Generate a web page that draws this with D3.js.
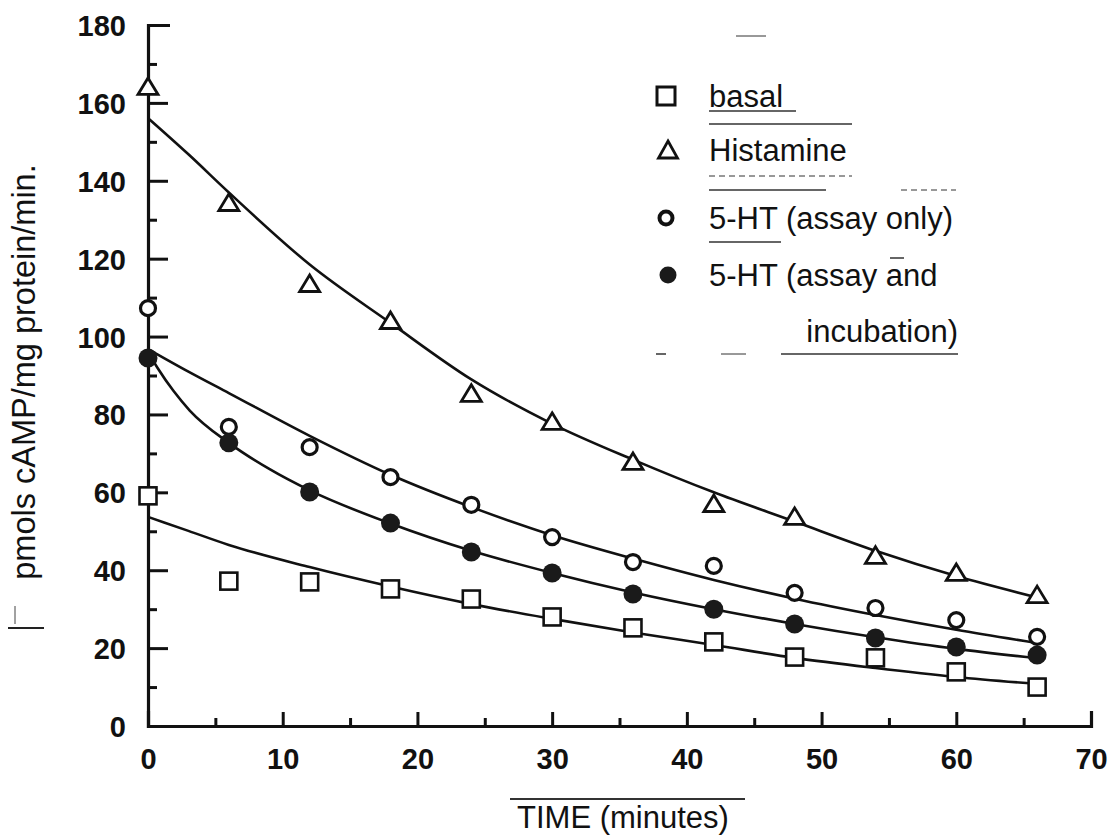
<!DOCTYPE html>
<html>
<head>
<meta charset="utf-8">
<script src="https://cdn.jsdelivr.net/npm/d3@7"></script>
<style>
  body { margin: 0; background: #fff; }
  svg { display: block; }
</style>
</head>
<body>
<div id="chart"></div>
<script>
// measured time points (minutes)
const times = [0, 6, 12, 18, 24, 30, 36, 42, 48, 54, 60, 66];

// measured values, pmols cAMP/mg protein/min
const basal = [59.1, 37.2, 37.0, 35.2, 32.6, 28.0, 25.2, 21.6, 17.7, 17.5, 13.9, 10.0];
const histamine = [164.1, 134.3, 113.5, 104.0, 85.3, 78.1, 67.8, 57.0, 53.7, 43.7, 39.3, 33.6];
const htAssay = [107.3, 76.8, 71.6, 63.9, 56.8, 48.5, 42.1, 41.1, 34.2, 30.3, 27.2, 22.9];
const htIncub = [94.5, 72.7, 60.1, 52.1, 44.7, 39.3, 33.9, 30.0, 26.2, 22.6, 20.3, 18.2];

// hand drawn fitted curves
const fitTimes = [0, 3, 6, 12, 18, 24, 30, 36, 42, 48, 54, 60, 66];
const fitBasal = [53.7, 50.1, 46.5, 40.8, 35.8, 31.3, 27.5, 24.0, 20.8, 17.5, 14.9, 12.6, 10.8];
const fitHistamine = [156.1, 146.8, 137.0, 118.5, 103.5, 89.0, 77.6, 68.4, 60.0, 52.5, 45.0, 38.5, 33.0];
const fitHtAssay = [96.8, 91.0, 85.5, 74.5, 64.5, 56.2, 49.0, 43.0, 37.5, 32.7, 28.5, 24.7, 21.3];
const fitIncubTimes = [0, 0.7, 1.9, 3.1, 6, 9, 12, 18, 24, 30, 36, 42, 48, 54, 60, 66];
const fitHtIncub = [96.0, 92.0, 86.0, 81.0, 72.7, 66.0, 60.5, 52.0, 45.0, 39.3, 34.3, 30.0, 26.2, 22.8, 19.8, 17.4];

const xTicks = [0, 10, 20, 30, 40, 50, 60, 70];
const yTicks = [0, 20, 40, 60, 80, 100, 120, 140, 160, 180];

const legendLabels = ["basal", "Histamine", "5-HT (assay only)", "5-HT (assay and"];

let c = { width: 1112, height: 837, left: 148, right: 1091, top: 25, bottom: 726 };

const svg = d3.select("#chart")
  .append("svg")
  .attr("width", c.width)
  .attr("height", c.height)
  .style("font-family", "'Liberation Sans', Arial, Helvetica, sans-serif");

const xScale = d3.scaleLinear().domain([0, 70]).range([c.left, c.right]);
const yScale = d3.scaleLinear().domain([0, 180]).range([c.bottom, c.top]);

// axes: ticks point inward
const xAxis = d3.axisBottom(xScale)
  .tickValues(xTicks)
  .tickSizeInner(-14)
  .tickSizeOuter(-15)
  .tickPadding(22)
  .tickFormat(d3.format("d"));

const xMinor = d3.axisBottom(xScale)
  .tickValues(d3.range(5, 70, 10))
  .tickSizeInner(-8)
  .tickSizeOuter(0)
  .tickFormat("");

const yAxis = d3.axisLeft(yScale)
  .tickValues(yTicks)
  .tickSizeInner(-20)
  .tickSizeOuter(-22)
  .tickPadding(22)
  .tickFormat(d3.format("d"));

const yMinor = d3.axisLeft(yScale)
  .tickValues(d3.range(10, 180, 20))
  .tickSizeInner(-9)
  .tickSizeOuter(0)
  .tickFormat("");

function styleAxis(g) {
  g.select(".domain").attr("stroke", "#111").attr("stroke-width", 3.2);
  g.selectAll(".tick line").attr("stroke", "#111").attr("stroke-width", 3);
  g.selectAll(".tick text")
    .attr("fill", "#111")
    .style("font-size", "29px")
    .style("font-weight", "bold");
}

svg.append("g").attr("transform", `translate(0,${c.bottom})`).call(xMinor).call(styleAxis)
  .select(".domain").remove();
svg.append("g").attr("transform", `translate(${c.left},0)`).call(yMinor).call(styleAxis)
  .select(".domain").remove();
svg.append("g").attr("transform", `translate(0,${c.bottom})`).call(xAxis).call(styleAxis);
svg.append("g").attr("transform", `translate(${c.left},0)`).call(yAxis).call(styleAxis)
  .selectAll(".tick text").attr("dy", "0.36em");

// axis titles
svg.append("text")
  .attr("transform", "translate(35,372) rotate(-90)")
  .attr("text-anchor", "middle")
  .attr("fill", "#111")
  .style("font-size", "32.5px")
  .text("pmols cAMP/mg protein/min.");

svg.append("text")
  .attr("x", 623)
  .attr("y", 828)
  .attr("text-anchor", "middle")
  .attr("fill", "#111")
  .style("font-size", "31px")
  .text("TIME (minutes)");

svg.append("line")
  .attr("x1", 510).attr("x2", 745)
  .attr("y1", 799).attr("y2", 799)
  .attr("stroke", "#333").attr("stroke-width", 2);

// fitted curves
const line = d3.line()
  .x(d => xScale(d[0]))
  .y(d => yScale(d[1]))
  .curve(d3.curveMonotoneX);

const fits = [
  d3.zip(fitTimes, fitHistamine),
  d3.zip(fitTimes, fitHtAssay),
  d3.zip(fitIncubTimes, fitHtIncub),
  d3.zip(fitTimes, fitBasal)
];

svg.append("g")
  .selectAll("path")
  .data(fits)
  .enter()
  .append("path")
  .attr("d", line)
  .attr("fill", "none")
  .attr("stroke", "#111")
  .attr("stroke-width", 2.6);

// markers
const triPath = "M0,-9L10,7.5H-10Z";

svg.append("g")
  .selectAll("rect")
  .data(d3.zip(times, basal))
  .enter()
  .append("rect")
  .attr("x", d => xScale(d[0]) - 8.5)
  .attr("y", d => yScale(d[1]) - 8.5)
  .attr("width", 17)
  .attr("height", 17)
  .attr("fill", "#fff")
  .attr("stroke", "#111")
  .attr("stroke-width", 2.6);

svg.append("g")
  .selectAll("path")
  .data(d3.zip(times, histamine))
  .enter()
  .append("path")
  .attr("transform", d => `translate(${xScale(d[0])},${yScale(d[1])})`)
  .attr("d", triPath)
  .attr("fill", "#fff")
  .attr("stroke", "#111")
  .attr("stroke-width", 2.8);

svg.append("g")
  .selectAll("circle")
  .data(d3.zip(times, htAssay))
  .enter()
  .append("circle")
  .attr("cx", d => xScale(d[0]))
  .attr("cy", d => yScale(d[1]))
  .attr("r", 7.5)
  .attr("fill", "#fff")
  .attr("stroke", "#111")
  .attr("stroke-width", 3.2);

svg.append("g")
  .selectAll("circle")
  .data(d3.zip(times, htIncub))
  .enter()
  .append("circle")
  .attr("cx", d => xScale(d[0]))
  .attr("cy", d => yScale(d[1]))
  .attr("r", 9.5)
  .attr("fill", "#1a1a1a");

// legend
const legend = svg.append("g").attr("transform", "translate(666,0)");
const rowY = [96, 150, 218, 275];

legend.append("rect")
  .attr("x", -9).attr("y", rowY[0] - 9).attr("width", 18).attr("height", 18)
  .attr("fill", "#fff").attr("stroke", "#111").attr("stroke-width", 3);
legend.append("path")
  .attr("transform", `translate(2,${rowY[1]})`)
  .attr("d", "M0,-9L9.5,8H-9.5Z")
  .attr("fill", "#fff").attr("stroke", "#111").attr("stroke-width", 2.8);
legend.append("circle")
  .attr("cx", 0).attr("cy", rowY[2]).attr("r", 6.5)
  .attr("fill", "#fff").attr("stroke", "#111").attr("stroke-width", 4);
legend.append("circle")
  .attr("cx", 2).attr("cy", rowY[3]).attr("r", 8.5)
  .attr("fill", "#1a1a1a");

legend.selectAll("text.lab")
  .data(legendLabels)
  .enter()
  .append("text")
  .attr("class", "lab")
  .attr("x", 43)
  .attr("y", (d, i) => rowY[i] + 11)
  .attr("fill", "#111")
  .style("font-size", "31px")
  .text(d => d);

legend.append("text")
  .attr("x", 292)
  .attr("y", 342)
  .attr("text-anchor", "end")
  .attr("fill", "#111")
  .style("font-size", "31px")
  .text("incubation)");

// scan marks around the legend
const marks = [
  [43, 130, 111, 1.5], [43, 186, 124, 1.3], [43, 186, 176, 1], [43, 160, 190, 1.5],
  [235, 290, 190, 1], [43, 115, 242, 1.5], [224, 238, 258, 1.5], [115, 292, 354, 1.5],
  [-10, 0, 354, 1.5], [55, 80, 354, 1], [70, 100, 36, 1]
];
legend.selectAll("line")
  .data(marks)
  .enter()
  .append("line")
  .attr("x1", d => d[0]).attr("x2", d => d[1])
  .attr("y1", d => d[2]).attr("y2", d => d[2])
  .attr("stroke", "#333")
  .attr("stroke-width", d => d[3])
  .attr("stroke-dasharray", (d, i) => i == 2 || i == 4 ? "6,4" : null);

// stray marks at the left edge
svg.append("line").attr("x1", 15).attr("x2", 15).attr("y1", 606).attr("y2", 624)
  .attr("stroke", "#444").attr("stroke-width", 1);
svg.append("line").attr("x1", 8).attr("x2", 44).attr("y1", 628).attr("y2", 628)
  .attr("stroke", "#222").attr("stroke-width", 2.2);
</script>
</body>
</html>
